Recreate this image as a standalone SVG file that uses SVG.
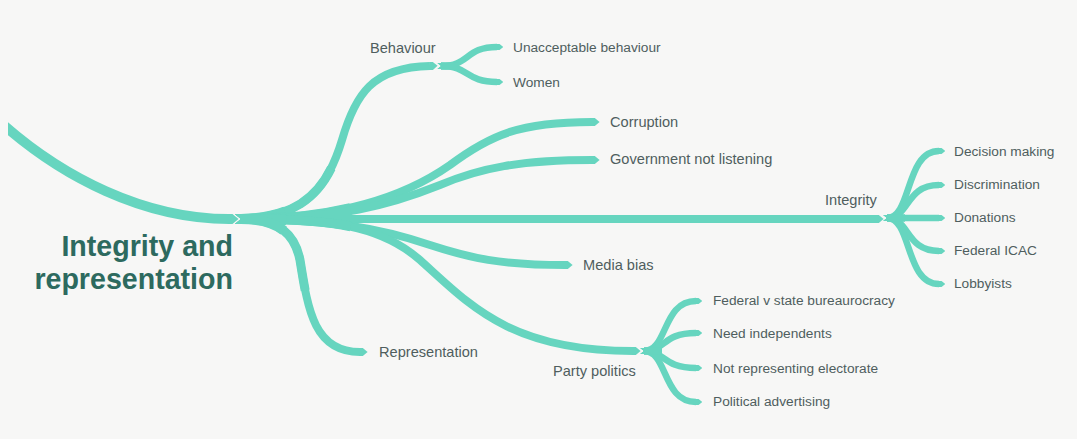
<svg xmlns="http://www.w3.org/2000/svg" xmlns:xlink="http://www.w3.org/1999/xlink" width="1077" height="439" viewBox="0 0 1077 439">
  <defs>
    <style>
      .br { fill: none; stroke: #66d5bf; stroke-width: 8; marker-end: url(#tip); }
      .t1 { fill: none; stroke: #66d5bf; stroke-width: 10; stroke-dasharray: 45 3000; marker-start: url(#notch); }
      .t2 { fill: none; stroke: #66d5bf; stroke-width: 9; stroke-dasharray: 110 3000; }
      .sub { fill: none; stroke: #66d5bf; stroke-width: 6.5; marker-end: url(#tip); marker-start: url(#notch); }
      .st { fill: none; stroke: #66d5bf; stroke-width: 7.5; stroke-dasharray: 18 3000; }
      .lbl { font-family: "Liberation Sans", Arial, sans-serif; font-size: 14.6px; fill: #4f5e5e; }
      .sl { font-family: "Liberation Sans", Arial, sans-serif; font-size: 13.7px; fill: #4f5e5e; }
      .title { font-family: "Liberation Sans", Arial, sans-serif; font-size: 28.6px; font-weight: bold; fill: #2d6a5f; }
    </style>
    <clipPath id="leftclip"><rect x="8" y="0" width="1069" height="439"/></clipPath>
    <marker id="tip" viewBox="0 0 10 10" markerWidth="1" markerHeight="1" refX="0.5" refY="5" orient="auto" markerUnits="strokeWidth">
      <path d="M0,0 H4 L10,5 L4,10 H0 Z" fill="#66d5bf"/>
    </marker>
    <marker id="notch" viewBox="-6 0 8 10" markerWidth="0.8" markerHeight="1" refX="0" refY="5" orient="auto" markerUnits="strokeWidth">
      <path d="M-6,0 H2 V10 H-6 L0,5 Z" fill="#66d5bf"/>
    </marker>
    <path id="b1" d="M241,219 C310,218 330,180 342,140 C355,95 372,67 430,66"/>
    <path id="b2" d="M241,219 C330,219 400,200 450,165 C490,135 520,122 592,122"/>
    <path id="b3" d="M241,219 C340,219 390,205 440,185 C480,168 520,160 592,160"/>
    <path id="b4" d="M241,219 L876,219"/>
    <path id="b5" d="M241,219 C330,219 380,228 430,245 C470,258 500,265 565,265"/>
    <path id="b6" d="M241,219 C330,219 380,225 420,260 C470,305 510,351 633,351"/>
    <path id="b7" d="M241,219 C280,219 295,235 300,260 C308,310 314,352 360,352"/>
  </defs>
  <rect width="1077" height="439" fill="#f7f7f6"/>

  <g id="connectors">
    <path d="M-2,120 C62,178 145,219 229,219" fill="none" stroke="#66d5bf" stroke-width="10" marker-end="url(#tip)" clip-path="url(#leftclip)"/>

    <use xlink:href="#b1" class="br"/><use xlink:href="#b1" class="t2"/><use xlink:href="#b1" class="t1"/>
    <use xlink:href="#b2" class="br"/><use xlink:href="#b2" class="t2"/><use xlink:href="#b2" class="t1"/>
    <use xlink:href="#b3" class="br"/><use xlink:href="#b3" class="t2"/><use xlink:href="#b3" class="t1"/>
    <use xlink:href="#b4" class="br"/><use xlink:href="#b4" class="t2"/><use xlink:href="#b4" class="t1"/>
    <use xlink:href="#b5" class="br"/><use xlink:href="#b5" class="t2"/><use xlink:href="#b5" class="t1"/>
    <use xlink:href="#b6" class="br"/><use xlink:href="#b6" class="t2"/><use xlink:href="#b6" class="t1"/>
    <use xlink:href="#b7" class="br"/><use xlink:href="#b7" class="t2"/><use xlink:href="#b7" class="t1"/>

    <path class="sub" d="M441,66 C470,66 465,47 497,47"/>
    <path class="sub" d="M441,66 C470,66 465,82 497,82"/>
    <path class="st" d="M441,66 L470,66"/>

    <path class="sub" d="M887,218 C912,218 905,151 939,151"/>
    <path class="sub" d="M887,218 C910,218 905,185 939,185"/>
    <path class="sub" d="M887,218 L939,218"/>
    <path class="sub" d="M887,218 C910,218 905,251 939,251"/>
    <path class="sub" d="M887,218 C912,218 905,284 939,284"/>
    <path class="st" d="M887,218 L910,218"/>

    <path class="sub" d="M644,351 C668,351 662,301 696,301"/>
    <path class="sub" d="M644,351 C666,351 662,333 696,333"/>
    <path class="sub" d="M644,351 C666,351 662,368 696,368"/>
    <path class="sub" d="M644,351 C668,351 662,402 696,402"/>
    <path class="st" d="M644,351 L666,351"/>
  </g>

  <g id="root">
    <text class="title" x="233" y="256" text-anchor="end">Integrity and</text>
    <text class="title" x="233" y="289" text-anchor="end">representation</text>
  </g>

  <g id="behaviour"><text class="lbl" x="370" y="53">Behaviour</text></g>
  <g id="unacceptable"><text class="sl" x="513" y="52">Unacceptable behaviour</text></g>
  <g id="women"><text class="sl" x="513" y="87">Women</text></g>
  <g id="corruption"><text class="lbl" x="610" y="127">Corruption</text></g>
  <g id="government"><text class="lbl" x="610" y="164">Government not listening</text></g>
  <g id="integrity"><text class="lbl" x="825" y="205">Integrity</text></g>
  <g id="decision"><text class="sl" x="954" y="156">Decision making</text></g>
  <g id="discrimination"><text class="sl" x="954" y="189">Discrimination</text></g>
  <g id="donations"><text class="sl" x="954" y="222">Donations</text></g>
  <g id="icac"><text class="sl" x="954" y="255">Federal ICAC</text></g>
  <g id="lobbyists"><text class="sl" x="954" y="288">Lobbyists</text></g>
  <g id="media"><text class="lbl" x="583" y="270">Media bias</text></g>
  <g id="representation"><text class="lbl" x="379" y="357">Representation</text></g>
  <g id="party"><text class="lbl" x="553" y="376">Party politics</text></g>
  <g id="federal"><text class="sl" x="713" y="305">Federal v state bureaurocracy</text></g>
  <g id="independents"><text class="sl" x="713" y="338">Need independents</text></g>
  <g id="electorate"><text class="sl" x="713" y="373">Not representing electorate</text></g>
  <g id="advertising"><text class="sl" x="713" y="406">Political advertising</text></g>
</svg>
